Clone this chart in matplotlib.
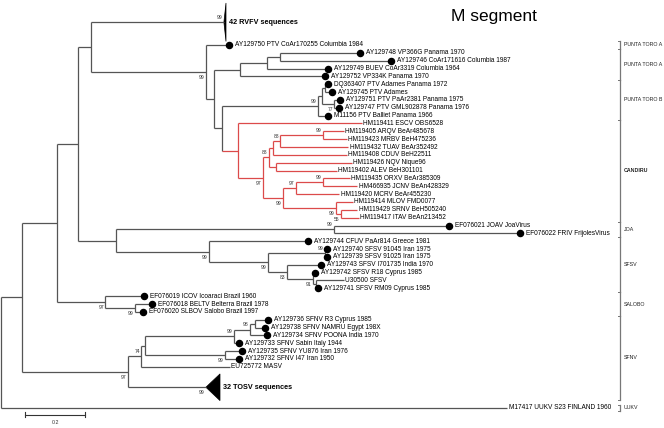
import matplotlib.pyplot as plt
from matplotlib.patches import Polygon

plt.rcParams['font.family'] = ['Liberation Sans', 'DejaVu Sans']

# ---- leaves: label, tip distance, has dot, row ----
leaf_labels = [
    "AY129750 PTV CoAr170255 Columbia 1984", "AY129748 VP366G Panama 1970",
    "AY129746 CoAr171616 Columbia 1987", "AY129749 BUEV CoAr3319 Columbia 1964",
    "AY129752 VP334K Panama 1970", "DQ363407 PTV Adames Panama 1972",
    "AY129745 PTV Adames", "AY129751 PTV PaAr2381 Panama 1975",
    "AY129747 PTV GML902878 Panama 1976", "M11156 PTV Balliet Panama 1966",
    "HM119411 ESCV OBS6528", "HM119405 ARQV BeAr485678", "HM119423 MRBV BeH475236",
    "HM119432 TUAV BeAr352492", "HM119408 CDUV BeH22511", "HM119426 NQV Nique96",
    "HM119402 ALEV BeH301101", "HM119435 ORXV BeAr385309", "HM466935 JCNV BeAn428329",
    "HM119420 MCRV BeAr455230", "HM119414 MLOV FMD0077", "HM119429 SRNV BeH505240",
    "HM119417 ITAV BeAn213452", "EF076021 JOAV JoaVirus", "EF076022 FRIV FrijolesVirus",
    "AY129744 CFUV PaAr814 Greece 1981", "AY129740 SFSV 91045 Iran 1975",
    "AY129739 SFSV 91025 Iran 1975", "AY129743 SFSV I701735 India 1970",
    "AY129742 SFSV R18 Cyprus 1985", "U30500 SFSV", "AY129741 SFSV RM09 Cyprus 1985",
    "EF076019 ICOV Icoaraci Brazil 1960", "EF076018 BELTV Belterra Brazil 1978",
    "EF076020 SLBOV Salobo Brazil 1997", "AY129736 SFNV R3 Cyprus 1985",
    "AY129738 SFNV NAMRU Egypt 198X", "AY129734 SFNV POONA India 1970",
    "AY129733 SFNV Sabin Italy 1944", "AY129735 SFNV YU876 Iran 1976",
    "AY129732 SFNV I47 Iran 1950", "EU725772 MASV", "M17417 UUKV S23 FINLAND 1960",
]
leaf_depth = [
    0.760, 1.197, 1.300, 1.090, 1.080, 1.090, 1.103, 1.130, 1.127, 1.090,
    1.203, 1.143, 1.153, 1.157, 1.153, 1.170, 1.120, 1.163, 1.187, 1.127,
    1.173, 1.187, 1.193, 1.493, 1.730,
    1.023, 1.087, 1.087, 1.067, 1.047, 1.143, 1.057,
    0.477, 0.503, 0.473, 0.890, 0.880, 0.887, 0.793, 0.803, 0.793, 0.763, 1.687,
]
leaf_row = list(range(42)) + [46.2]
no_dot = set(range(10, 23)) | {30, 41, 42}

# collapsed clades: label, row, apex distance, base distance, half height (rows)
collapsed = {
    'RVFV': ("42 RVFV sequences", -2.9, 0.743, 0.750, 2.45),
    'TOSV': ("32 TOSV sequences", 43.6, 0.683, 0.730, 1.7),
}

# internal nodes: name -> (distance, children, bootstrap)
nodes = {
    'root': (0.000, ['n22', 42], None),
    'n22': (0.070, ['n57', 'n128'], None),
    'n57': (0.187, ['n78', 'n105'], None),
    'n78': (0.257, ['n91', 'n116'], None),
    'n91': (0.300, ['RVFV', 'n206'], None),
    'n206': (0.683, [0, 'n214'], 99),
    'n214': (0.710, ['n240', 'n222'], None),
    'n240': (0.797, ['n267', 4], None),
    'n267': (0.887, ['n280', 3], None),
    'n280': (0.930, [1, 2], None),
    'n222': (0.737, ['ptb', 'can'], None),
    'ptb': (1.057, ['ptb2', 9], 99),
    'ptb2': (1.070, ['ada', 'n77'], None),
    'ada': (1.080, [5, 6], None),
    'n77': (1.110, [7, 8], 77),
    'can': (0.790, [10, 'P'], None),
    'P': (0.873, ['Q', 'R'], 97),
    'Q': (0.893, ['U', 'W'], 88),
    'U': (0.907, ['T', 14], None),
    'T': (0.930, ['N1', 13], 88),
    'N1': (1.073, [11, 12], 99),
    'W': (0.917, [15, 16], None),
    'R': (0.940, ['X', 'Y'], 99),
    'X': (0.983, ['N2', 19], 97),
    'N2': (1.073, [17, 18], 99),
    'Y': (1.117, [20, 'Z'], 99),
    'Z': (1.133, [21, 22], 55),
    'n116': (0.383, ['joa', 'n209'], None),
    'joa': (1.110, [23, 24], 99),
    'n209': (0.693, [25, 'n268'], 99),
    'n268': (0.890, ['n325', 'n287'], 99),
    'n325': (1.080, [26, 27], 99),
    'n287': (0.953, [28, 'n313'], 83),
    'n313': (1.040, [29, 'n315'], 91),
    'n315': (1.050, [30, 31], None),
    'n105': (0.347, [32, 'n135'], 97),
    'n135': (0.447, [33, 34], 99),
    'n128': (0.423, ['n141', 'TOSV'], 97),
    'n141': (0.467, ['n145', 41], 74),
    'n145': (0.480, ['n234', 'n225'], None),
    'n234': (0.777, ['n250', 38], 99),
    'n250': (0.830, ['n255', 37], 98),
    'n255': (0.847, [35, 36], None),
    'n225': (0.747, [39, 40], 99),
}
collapsed_support = {'RVFV': 99, 'TOSV': 99}
support_below = {'n206', 'n77', 'P', 'R', 'Y', 'Z', 'n209', 'n268', 'n287', 'n313',
                 'n105', 'n135', 'n225', 'n128', 'TOSV'}

groups = [("PUNTA TORO A", -0.5, 0.5), ("PUNTA TORO A", 0.5, 4.5),
          ("PUNTA TORO B", 4.5, 9.5), ("CANDIRU", 9.5, 22.5), ("JOA", 22.5, 24.5),
          ("SFSV", 24.5, 31.5), ("SALOBO", 31.5, 34.5), ("SFNV", 34.5, 45.2),
          ("UUKV", 45.8, 46.6)]

GRAY = '#555555'
RED = '#dc4a4a'

fig = plt.figure(figsize=(6.64, 4.28), dpi=100)
ax = fig.add_axes([0, 0, 1, 1])
ax.set_xlim(-1 / 300, 663 / 300)
ax.set_ylim(48.79, -5.73)
ax.axis('off')


def node_y(n):
    if isinstance(n, int):
        return leaf_row[n]
    if n in collapsed:
        return collapsed[n][1]
    kids = nodes[n][1]
    return (node_y(kids[0]) + node_y(kids[-1])) / 2


def node_x(n):
    if isinstance(n, int):
        return leaf_depth[n]
    if n in collapsed:
        return collapsed[n][2]
    return nodes[n][0]


def draw(n, red=False):
    if n == 'can':
        red = True
    if not isinstance(n, int) and n in nodes:
        x, kids, sup = nodes[n]
        col = RED if red else GRAY
        ys = [node_y(k) for k in kids]
        ax.plot([x, x], [ys[0], ys[-1]], color=col, lw=0.9, solid_capstyle='butt')
        for k, yk in zip(kids, ys):
            kred = red or k == 'can'
            ax.plot([x, node_x(k)], [yk, yk], color=RED if kred else GRAY, lw=0.9,
                    solid_capstyle='butt')
            draw(k, red)
        if sup is not None:
            dy = 0.7 if n in support_below else -0.6
            ax.text(x - 0.004, node_y(n) + dy, str(sup), fontsize=3.6, color='#333333',
                    ha='right', va='center')
    elif isinstance(n, int):
        x, y = leaf_depth[n], leaf_row[n]
        if n in no_dot:
            ax.text(x + 0.005, y, leaf_labels[n], fontsize=4.7, ha='left', va='center')
        else:
            ax.plot(x, y, 'o', color='black', ms=4.4)
            ax.text(x + 0.02, y, leaf_labels[n], fontsize=4.7, ha='left', va='center')
    else:
        lab, y, xa, xb, h = collapsed[n]
        ax.add_patch(Polygon([(xa, y), (xb, y - h), (xb, y + h)], closed=True,
                             facecolor='black', edgecolor='black', lw=0.5))
        ax.text(xb + 0.01, y, lab, fontsize=5.2, fontweight='bold', ha='left', va='center')
        dy = 0.7 if n in support_below else -0.6
        ax.text(xa - 0.004, y + dy, str(collapsed_support[n]), fontsize=3.6,
                color='#333333', ha='right', va='center')


draw('root')

# group brackets on the right
bx = 2.063
for name, y0, y1 in groups:
    ax.plot([bx, bx], [y0, y1], color='#777777', lw=0.9)
    ax.plot([bx - 0.006, bx], [y0, y0], color='#777777', lw=0.7)
    ax.plot([bx - 0.006, bx], [y1, y1], color='#777777', lw=0.7)
    ax.text(bx + 0.012, (y0 + y1) / 2, name, fontsize=3.8, color='#222222',
            fontweight='bold' if name == 'CANDIRU' else 'normal', ha='left', va='center')

# scale bar
ax.plot([0.08, 0.28], [47.1, 47.1], color='#333333', lw=0.8)
ax.plot([0.08, 0.08], [46.8, 47.4], color='#333333', lw=0.8)
ax.plot([0.28, 0.28], [46.8, 47.4], color='#333333', lw=0.8)
ax.text(0.18, 48.1, "0.2", fontsize=3.8, ha='center', va='center', color='#333333')

fig.text(494 / 664, 1 - 17 / 428, "M segment", fontsize=12.5, ha='center', va='center')

fig.savefig('out.png', dpi=100)
